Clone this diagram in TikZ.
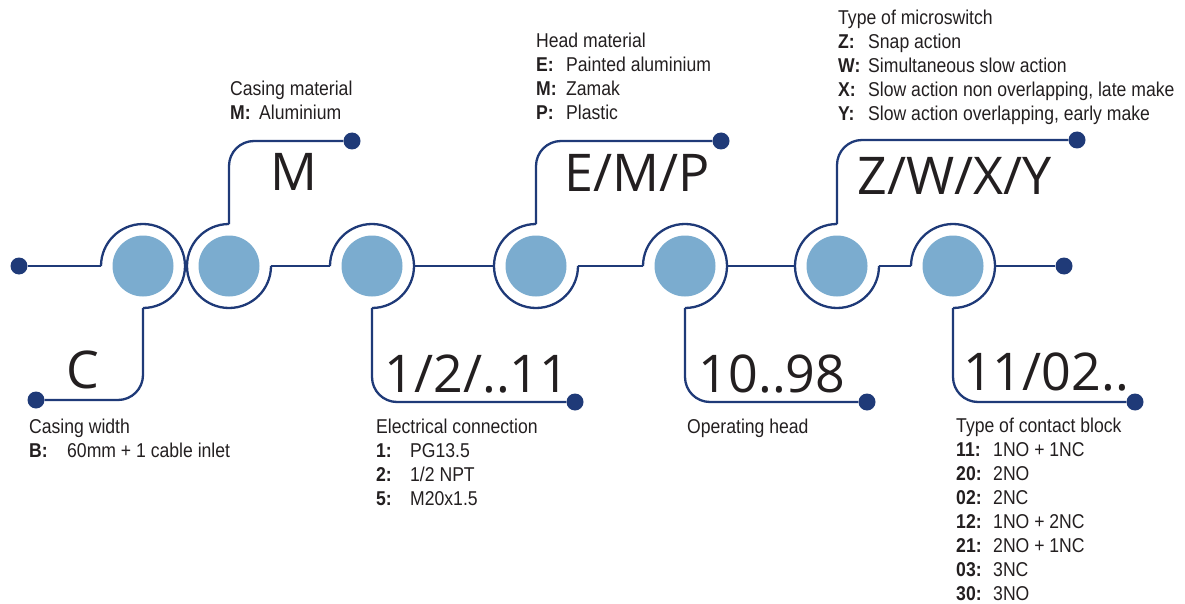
\documentclass[tikz,border=0pt]{standalone}
\usepackage{fontspec}
\setmainfont{Liberation Sans}[FakeStretch=0.88]
\newfontfamily\codefont{Open Sans}
\definecolor{navy}{RGB}{31,58,120}
\definecolor{pale}{RGB}{123,172,207}
\definecolor{ink}{RGB}{35,31,32}
\newcommand{\keytab}[2]{\begin{tabular}[t]{@{}p{#1}@{}l@{}}#2\end{tabular}}
\newcommand{\head}[1]{\multicolumn{2}{@{}l@{}}{#1}}
\begin{document}
\begin{tikzpicture}[x=1pt, y=1pt,
  joint/.style={circle, minimum size=84pt, inner sep=0, outer sep=0,
    path picture={\fill[pale] (path picture bounding box.center) circle (30.5pt);}},
  dot/.style={circle, fill=navy, minimum size=17pt, inner sep=0},
  wire/.style={draw=navy, line width=2.3pt},
  elbow/.style={wire, rounded corners=25pt},
  code/.style={anchor=base, inner sep=0, text=ink, font=\codefont\fontsize{52}{52}\selectfont},
  legend/.style={anchor=base west, inner sep=0, text=ink, font=\fontsize{20}{24}\selectfont}]
\useasboundingbox (0,0) rectangle (1185,-604);
\node[joint] (c1) at (143,-266) {};
\node[joint] (c2) at (229,-266) {};
\node[joint] (c3) at (372,-266) {};
\node[joint] (c4) at (536,-266) {};
\node[joint] (c5) at (685,-266) {};
\node[joint] (c6) at (837,-266) {};
\node[joint] (c7) at (953,-266) {};
\node[dot] (dl) at (19,-266) {};
\node[dot] (dr) at (1064,-266) {};
\node[dot] (dC) at (36,-400) {};
\node[dot] (dM) at (352,-141) {};
\node[dot] (dE) at (575,-402) {};
\node[dot] (dH) at (721,-141) {};
\node[dot] (dO) at (867,-402) {};
\node[dot] (dS) at (1077,-140) {};
\node[dot] (dK) at (1135,-402) {};
% rings
\draw[wire] (c1.west) arc[start angle=180, end angle=-90, radius=42pt];
\draw[wire] (c2.north) arc[start angle=90, end angle=360, radius=42pt];
\draw[wire] (c3.west) arc[start angle=180, end angle=-90, radius=42pt];
\draw[wire] (c4.north) arc[start angle=90, end angle=360, radius=42pt];
\draw[wire] (c5.west) arc[start angle=180, end angle=-90, radius=42pt];
\draw[wire] (c6.north) arc[start angle=90, end angle=360, radius=42pt];
\draw[wire] (c7.west) arc[start angle=180, end angle=-90, radius=42pt];
% main line
\draw[wire] (dl) -- (c1.west);
\draw[wire] (c2.east) -- (c3.west);
\draw[wire] (c3.east) -- (c4.west);
\draw[wire] (c4.east) -- (c5.west);
\draw[wire] (c5.east) -- (c6.west);
\draw[wire] (c6.east) -- (c7.west);
\draw[wire] (c7.east) -- (dr);
% branches
\draw[elbow] (c1.south) |- (dC);
\draw[elbow] (c2.north) |- (dM);
\draw[elbow] (c3.south) |- (dE);
\draw[elbow] (c4.north) |- (dH);
\draw[elbow] (c5.south) |- (dO);
\draw[elbow] (c6.north) |- (dS);
\draw[elbow] (c7.south) |- (dK);
% codes
\node[code] (tC) at (83,-388) {C};
\node[code] (tM) at (294,-190) {M};
\node[code] (tE) at (477,-392) {1/2/..11};
\node[code] (tH) at (637,-192) {E/M/P};
\node[code] (tO) at (772,-392) {10..98};
\node[code] (tS) at (955,-195) {Z/W/X/Y};
\node[code] (tK) at (1046,-390) {11/02..};
% legends
\node[legend] (lM) at (230,-96) {\keytab{29pt}{\head{Casing material}\\ \textbf{M:} & Aluminium}};
\node[legend] (lC) at (29,-433) {\keytab{38pt}{\head{Casing width}\\ \textbf{B:} & 60mm + 1 cable inlet}};
\node[legend] (lH) at (536,-48) {\keytab{30pt}{\head{Head material}\\ \textbf{E:} & Painted aluminium\\ \textbf{M:} & Zamak\\ \textbf{P:} & Plastic}};
\node[legend] (lS) at (838,-25) {\keytab{30pt}{\head{Type of microswitch}\\ \textbf{Z:} & Snap action\\ \textbf{W:} & Simultaneous slow action\\ \textbf{X:} & Slow action non overlapping, late make\\ \textbf{Y:} & Slow action overlapping, early make}};
\node[legend] (lE) at (376,-433) {\keytab{34pt}{\head{Electrical connection}\\ \textbf{1:} & PG13.5\\ \textbf{2:} & 1/2 NPT\\ \textbf{5:} & M20x1.5}};
\node[legend] (lO) at (687,-433) {\keytab{30pt}{\head{Operating head}}};
\node[legend] (lK) at (956,-432) {\keytab{37pt}{\head{Type of contact block}\\ \textbf{11:} & 1NO + 1NC\\ \textbf{20:} & 2NO\\ \textbf{02:} & 2NC\\ \textbf{12:} & 1NO + 2NC\\ \textbf{21:} & 2NO + 1NC\\ \textbf{03:} & 3NC\\ \textbf{30:} & 3NO}};
\end{tikzpicture}
\end{document}
